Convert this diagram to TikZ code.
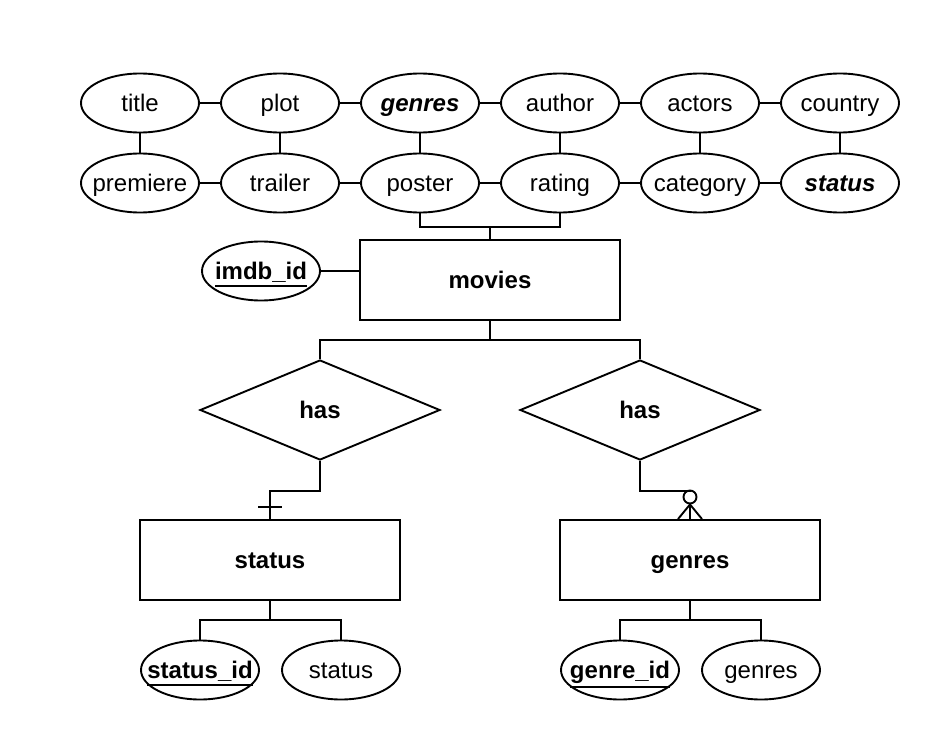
\documentclass[tikz,border=0pt]{standalone}
\usepackage{fontspec}
\setmainfont{Liberation Sans}
\usetikzlibrary{shapes.geometric}
\newcommand\tx[1]{\makebox[0pt]{#1}}
\newcommand\keytx[1]{\makebox[0pt]{\vtop{\hbox{\bfseries #1}\kern2.5pt\hrule height 1.9pt}}}
\tikzset{
  er/.style={line width=1.9pt, draw=black},
  attr/.style={er, ellipse, minimum width=118pt, minimum height=59pt, inner sep=0pt,
    text height=22pt, text depth=5pt, font=\fontsize{24}{28}\selectfont},
  entity/.style={er, rectangle, minimum width=260pt, minimum height=80pt, inner sep=0pt,
    text height=22pt, text depth=5pt, font=\fontsize{24}{28}\selectfont\bfseries},
  rel/.style={er, diamond, minimum width=240pt, minimum height=100pt, inner sep=0pt, aspect=2.4,
    text height=22pt, text depth=5pt, font=\fontsize{24}{28}\selectfont\bfseries},
  conn/.style={line width=1.9pt},
  ring/.style={er, circle, minimum size=13pt, inner sep=0pt}
}
\begin{document}
\begin{tikzpicture}[x=1pt,y=-1pt]
\useasboundingbox[fill=white] (0,0) rectangle (941,738);
% row 1
\node[attr] (title)   at (140,103) {\tx{title}};
\node[attr] (plot)    at (280,103) {\tx{plot}};
\node[attr] (genresA) at (420,103) {\tx{\bfseries\itshape genres}};
\node[attr] (author)  at (560,103) {\tx{author}};
\node[attr] (actors)  at (700,103) {\tx{actors}};
\node[attr] (country) at (840,103) {\tx{country}};
% row 2
\node[attr] (premiere) at (140,183) {\tx{premiere}};
\node[attr] (trailer)  at (280,183) {\tx{trailer}};
\node[attr] (poster)   at (420,183) {\tx{poster}};
\node[attr] (rating)   at (560,183) {\tx{rating}};
\node[attr] (category) at (700,183) {\tx{category}};
\node[attr] (statusA)  at (840,183) {\tx{\bfseries\itshape status}};
% entities
\node[entity] (movies) at (490,280) {\tx{movies}};
\node[attr] (imdb) at (261,271) {\keytx{imdb\_id}};
\node[rel] (has1) at (320,410) {\tx{has}};
\node[rel] (has2) at (640,410) {\tx{has}};
\node[entity] (status) at (270,560) {\tx{status}};
\node[entity] (genres) at (690,560) {\tx{genres}};
\node[attr] (sid) at (200,670) {\keytx{status\_id}};
\node[attr] (sst) at (341,670) {\tx{status}};
\node[attr] (gid) at (620,670) {\keytx{genre\_id}};
\node[attr] (gen) at (761,670) {\tx{genres}};
\node[ring] (circ) at (690,497) {};
% helper points
\coordinate (j1) at (490,227);
\coordinate (b1) at (490,340);
\coordinate (b3) at (270,620);
\coordinate (b4) at (690,620);
% row connectors
\draw[conn] (title) -- (plot) (plot) -- (genresA) (genresA) -- (author) (author) -- (actors) (actors) -- (country);
\draw[conn] (premiere) -- (trailer) (trailer) -- (poster) (poster) -- (rating) (rating) -- (category) (category) -- (statusA);
\draw[conn] (title) -- (premiere) (plot) -- (trailer) (genresA) -- (poster) (author) -- (rating) (actors) -- (category) (country) -- (statusA);
% to movies
\draw[conn] (poster.south) |- (j1) -| (rating.south);
\draw[conn] (j1) -- (movies.north);
\draw[conn] (imdb.east) -- (imdb.east -| movies.west);
% to relationships
\draw[conn] (movies.south) -- (b1);
\draw[conn] (has1.north) |- (b1) -| (has2.north);
% has1 -> status (one)
\draw[conn] (has1.south) -- ++(0,30) -| (status.north);
\draw[conn] ([shift={(-12pt,12pt)}]status.north) -- ([shift={(12pt,12pt)}]status.north);
% has2 -> genres (zero or many)
\draw[conn] (has2.south) -- ++(0,30) -| (circ.north);
\draw[conn] (circ.south) -- (genres.north);
\draw[conn] ([xshift=-12pt]genres.north) -- (circ.south) -- ([xshift=12pt]genres.north);
% attributes of status and genres
\draw[conn] (status.south) -- (b3);
\draw[conn] (sid.north) |- (b3) -| (sst.north);
\draw[conn] (genres.south) -- (b4);
\draw[conn] (gid.north) |- (b4) -| (gen.north);
\end{tikzpicture}
\end{document}
